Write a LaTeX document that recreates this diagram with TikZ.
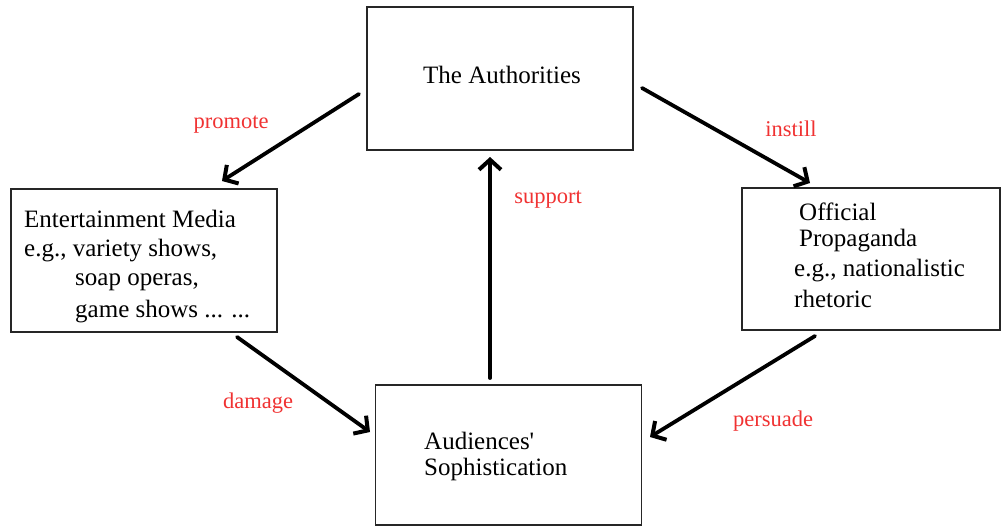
\documentclass[tikz,border=0pt]{standalone}
\usepackage{fontspec}
\setmainfont{Liberation Serif}
\usetikzlibrary{arrows.meta}
\definecolor{lblred}{RGB}{240,50,50}
\tikzset{
  box/.style={draw=black!85, line width=1.3pt, rectangle, inner sep=0pt},
  txt/.style={anchor=west, inner sep=0pt, font=\fontsize{25}{30}\selectfont, align=left},
  lbl/.style={text=lblred, inner sep=0pt, font=\fontsize{22.5}{26}\selectfont},
  flow/.style={line width=3.8pt, -{Straight Barb[length=10pt,width=22pt,line width=4pt]}, line cap=round}
}
\begin{document}
\begin{tikzpicture}[x=1pt,y=-1pt]
\useasboundingbox (0,0) rectangle (1001,527);
% boxes
\node[box, minimum width=266pt, minimum height=143pt] (auth) at (500,78.5) {};
\node[box, minimum width=266pt, minimum height=143pt] (ent) at (144,260.5) {};
\node[box, minimum width=258pt, minimum height=142pt] (off) at (871,259) {};
\node[box, minimum width=266pt, minimum height=140pt] (aud) at (508.5,455) {};
% texts
\node[txt] (tauth) at (423,75) {The Authorities};
\node[txt] (tent1) at (24,219) {Entertainment Media};
\node[txt] (tent2) at (24,251) {e.g., variety shows,};
\node[txt] (tent3) at (75,282) {soap operas,};
\node[txt] (tent4) at (75,312) {game shows ... ...};
\node[txt] (toff1) at (799,212) {Official};
\node[txt] (toff2) at (799,241) {Propaganda};
\node[txt] (toff3) at (794,271) {e.g., nationalistic};
\node[txt] (toff4) at (794,299) {rhetoric};
\node[txt] (taud1) at (424,441) {Audiences\textquotesingle};
\node[txt] (taud2) at (424,469) {Sophistication};
% labels
\node[lbl] (lpromote) at (231,125) {promote};
\node[lbl] (linstill) at (791,129) {instill};
\node[lbl] (lsupport) at (548,200) {support};
\node[lbl] (ldamage) at (258,403) {damage};
\node[lbl] (lpersuade) at (773,421) {persuade};
% arrow end points
\coordinate (a1s) at (359,94);  \coordinate (a1e) at (222,181);
\coordinate (a2s) at (642,88);  \coordinate (a2e) at (810,183);
\coordinate (a3s) at (490,378); \coordinate (a3e) at (490,157);
\coordinate (a4s) at (237,337); \coordinate (a4e) at (370,432);
\coordinate (a5s) at (815,336); \coordinate (a5e) at (650,437);
\draw[flow] (a1s) -- (a1e);
\draw[flow] (a2s) -- (a2e);
\draw[flow] (a3s) -- (a3e);
\draw[flow] (a4s) -- (a4e);
\draw[flow] (a5s) -- (a5e);
\end{tikzpicture}
\end{document}
